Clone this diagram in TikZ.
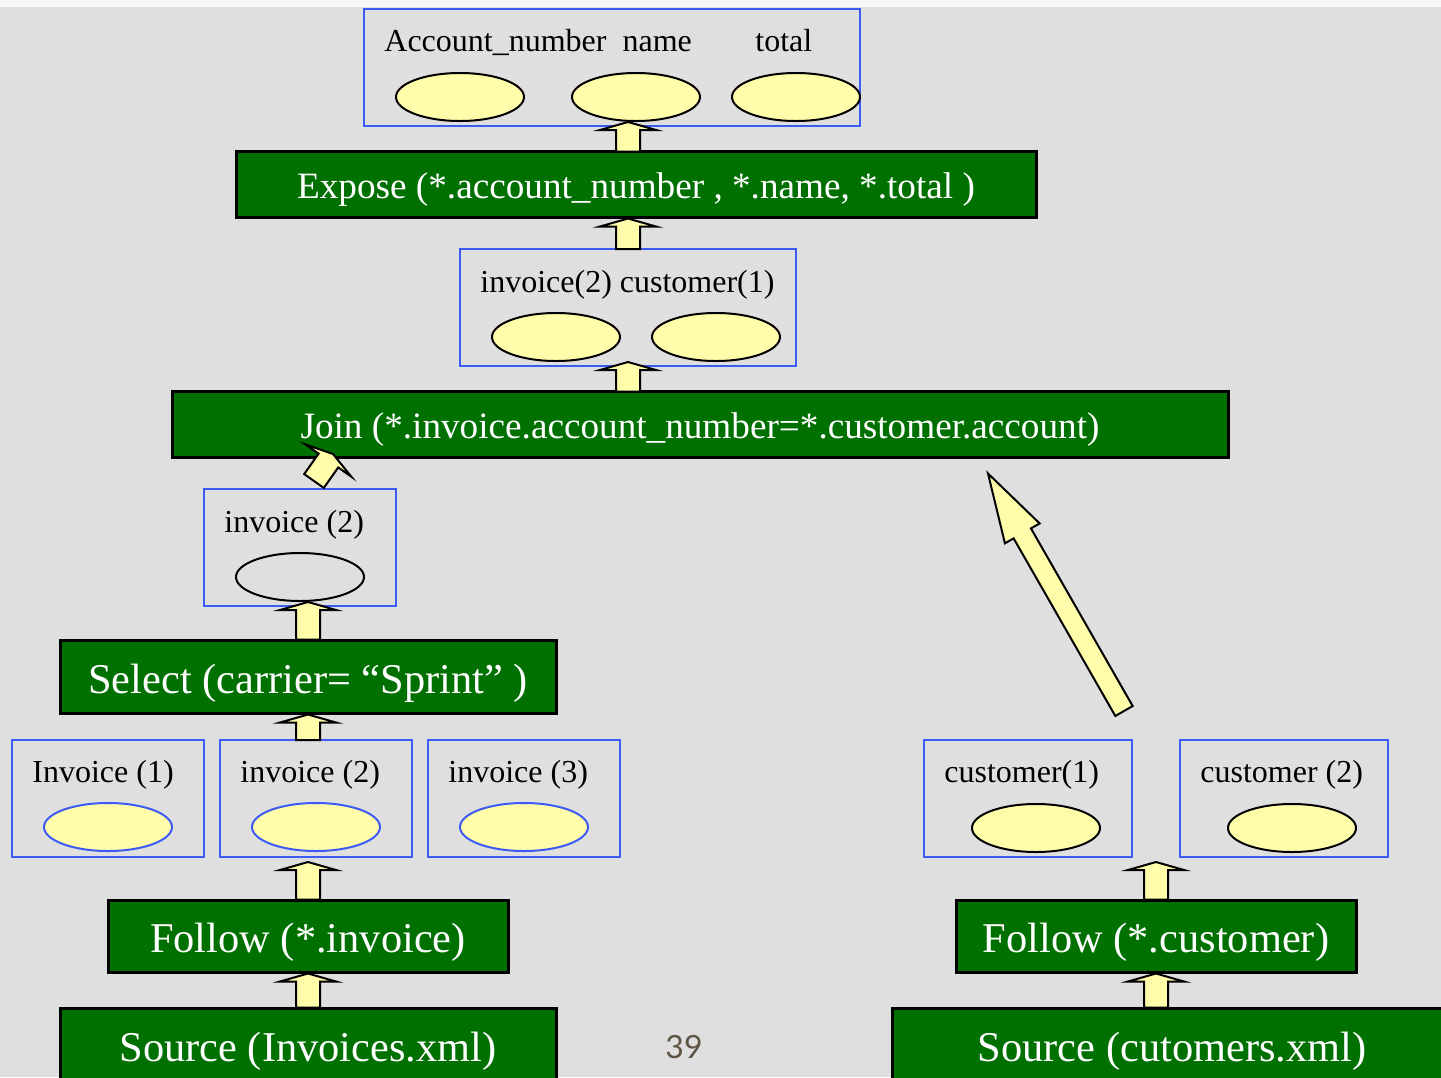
\documentclass[tikz,border=0pt]{standalone}
\usepackage{fontspec}
\setmainfont{Liberation Serif}
\newfontfamily\pagenumfont{Lato}
\usetikzlibrary{calc,fit,shapes.geometric}

\definecolor{slidebg}{RGB}{223,223,223}
\definecolor{stripbg}{RGB}{247,247,247}
\definecolor{opgreen}{RGB}{0,112,0}
\definecolor{setblue}{RGB}{60,90,245}
\definecolor{objyellow}{RGB}{255,252,170}
\definecolor{pagenum}{RGB}{93,84,67}

\tikzset{
  ba shaft/.store in=\bashaft, ba head/.store in=\bahead, ba len/.store in=\balen,
  ba shaft=6pt, ba head=14pt, ba len=4pt,
  % block arrow drawn as a polygon from the start (base) to the target (tip)
  blockarrow/.style={draw=black, fill=objyellow, line width=1pt, line join=miter,
    to path={
      ($(\tikztostart)!\bashaft!90:(\tikztotarget)$)
      -- ($(\tikztotarget)!\balen!(\tikztostart)!\bashaft!90:(\tikztotarget)$)
      -- ($(\tikztotarget)!\balen!(\tikztostart)!\bahead!90:(\tikztotarget)$)
      -- (\tikztotarget)
      -- ($(\tikztotarget)!\balen!(\tikztostart)!\bahead!-90:(\tikztotarget)$)
      -- ($(\tikztotarget)!\balen!(\tikztostart)!\bashaft!-90:(\tikztotarget)$)
      -- ($(\tikztostart)!\bashaft!-90:(\tikztotarget)$)
      -- cycle}},
  opbox/.style={draw=black, line width=1.5pt, fill=opgreen, inner sep=0pt},
  optext/.style={text=white, inner sep=0pt, font=\fontsize{18.6}{20}\selectfont},
  bigtext/.style={optext, font=\fontsize{21.2}{24}\selectfont},
  setbox/.style={draw=setblue, line width=1pt, inner sep=0pt},
  lbl/.style={anchor=base west, inner sep=0pt, font=\fontsize{16}{18}\selectfont},
  obj/.style={ellipse, draw=black, line width=1pt, fill=objyellow,
    minimum width=64pt, minimum height=24pt, inner sep=0pt},
  blueobj/.style={obj, draw=setblue},
  emptyobj/.style={obj, fill=none},
}

\begin{document}
\begin{tikzpicture}[x=0.5pt,y=-0.5pt]
\useasboundingbox (0,0) rectangle (1441,1077);
\fill[stripbg] (0,0) rectangle (1441,7);
\fill[slidebg] (0,7) rectangle (1441,1077);
\clip (0,0) rectangle (1441,1077);

% exposed result
\node[setbox, fit={(364,9)(860,126)}] (top) {};
\node[lbl] (toplbl) at (384,51) {Account\_number\ \ name};
\node[lbl] (totallbl) at (755,51) {total};
\node[obj] (e1) at (460,97) {};
\node[obj] (e2) at (636,97) {};
\node[obj] (e3) at (796,97) {};

\node[opbox, fit={(236,151)(1036,217)}] (expose) {};
\node[optext] (exposetxt) at ($(expose.center)+(0,6)$) {Expose (*.account\_number , *.name, *.total )};

% joined pair
\node[setbox, fit={(460,249)(796,366)}] (mid) {};
\node[lbl] (midlbl) at (480,292) {invoice(2) customer(1)};
\node[obj] (m1) at (556,337) {};
\node[obj] (m2) at (716,337) {};

\node[opbox, fit={(172,391)(1228,457)}] (join) {};
\node[optext] (jointxt) at ($(join.center)+(0,6)$) {Join (*.invoice.account\_number=*.customer.account)};

% selected invoice
\node[setbox, fit={(204,489)(396,606)}] (inv) {};
\node[lbl] (invlbl) at (224,532) {invoice (2)};
\node[emptyobj] (invobj) at (300,577) {};

\node[opbox, fit={(60,640)(556,713)}] (sel) {};
\node[bigtext] (seltxt) at ($(sel.center)+(0,7)$) {Select (carrier= “Sprint” )};

% invoices
\node[setbox, fit={(12,740)(204,857)}] (i1) {};
\node[setbox, fit={(220,740)(412,857)}] (i2) {};
\node[setbox, fit={(428,740)(620,857)}] (i3) {};
\node[lbl] (i1lbl) at (32,782) {Invoice (1)};
\node[lbl] (i2lbl) at (240,782) {invoice (2)};
\node[lbl] (i3lbl) at (448,782) {invoice (3)};
\node[blueobj] (i1obj) at (108,827) {};
\node[blueobj] (i2obj) at (316,827) {};
\node[blueobj] (i3obj) at (524,827) {};

\node[opbox, fit={(108,900)(508,972)}] (fol) {};
\node[bigtext] (foltxt) at ($(fol.center)+(0,6)$) {Follow (*.invoice)};
\node[opbox, fit={(60,1008)(556,1086)}] (src) {};
\node[bigtext] (srctxt) at ($(src.center)+(0,4)$) {Source (Invoices.xml)};

% customers
\node[setbox, fit={(924,740)(1132,857)}] (c1) {};
\node[setbox, fit={(1180,740)(1388,857)}] (c2) {};
\node[lbl] (c1lbl) at (944,782) {customer(1)};
\node[lbl] (c2lbl) at (1200,782) {customer (2)};
\node[obj] (c1obj) at (1036,828) {};
\node[obj] (c2obj) at (1292,828) {};

\node[opbox, fit={(956,900)(1356,972)}] (fcu) {};
\node[bigtext] (fcutxt) at ($(fcu.center)+(0,6)$) {Follow (*.customer)};
\node[opbox, fit={(892,1008)(1452,1086)}] (scu) {};
\node[bigtext] (scutxt) at ($(scu.center)+(0,4)$) {Source (cutomers.xml)};

\node[text=pagenum, font=\pagenumfont\fontsize{16}{18}\selectfont, inner sep=0pt] (pnum) at (684,1047) {39};

% arrow end points
\coordinate (a1b) at ($(expose.north)+(-8,2)$);
\coordinate (a1t) at ($(e2.south)+(-8,0)$);
\coordinate (a2b) at ($(mid.north)+(0,1)$);
\coordinate (a2t) at (mid.north |- expose.south);
\coordinate (a3b) at ($(mid.south |- join.north)+(0,2)$);
\coordinate (a3t) at ($(mid.south)+(0,-5)$);
\coordinate (a4b) at ($(inv.north)+(14,-7)$);
\coordinate (a4t) at ($(inv.north)+(33,-34)$);
\coordinate (a5b) at ($(sel.north)+(0,1)$);
\coordinate (a5t) at (sel.north |- invobj.south);
\coordinate (a6b) at ($(sel.south |- i2.north)+(0,1)$);
\coordinate (a6t) at (sel.south);
\coordinate (a7b) at ($(fol.north)+(0,1)$);
\coordinate (a7t) at ($(fol.north |- i2.south)+(0,4)$);
\coordinate (a8b) at ($(src.north)+(0,1)$);
\coordinate (a8t) at (fol.south);
\coordinate (a9b) at ($(fcu.north)+(0,1)$);
\coordinate (a9t) at ($(fcu.north |- c1.south)+(0,4)$);
\coordinate (a10b) at ($(fcu.south |- scu.north)+(0,1)$);
\coordinate (a10t) at (fcu.south);
\coordinate (a11b) at ($(c1.north east)+(-9,-28)$);
\coordinate (a11t) at ($(join.south)+(288,15)$);

% arrows
\draw[blockarrow] (a1b) to (a1t);
\draw[blockarrow] (a2b) to (a2t);
\draw[blockarrow] (a3b) to (a3t);
\draw[blockarrow] (a4b) to (a4t);
\draw[blockarrow] (a5b) to (a5t);
\draw[blockarrow] (a6b) to (a6t);
\draw[blockarrow] (a7b) to (a7t);
\draw[blockarrow] (a8b) to (a8t);
\draw[blockarrow] (a9b) to (a9t);
\draw[blockarrow] (a10b) to (a10t);
\draw[blockarrow, ba shaft=5pt, ba head=10pt, ba len=34.5pt] (a11b) to (a11t);
\end{tikzpicture}
\end{document}
